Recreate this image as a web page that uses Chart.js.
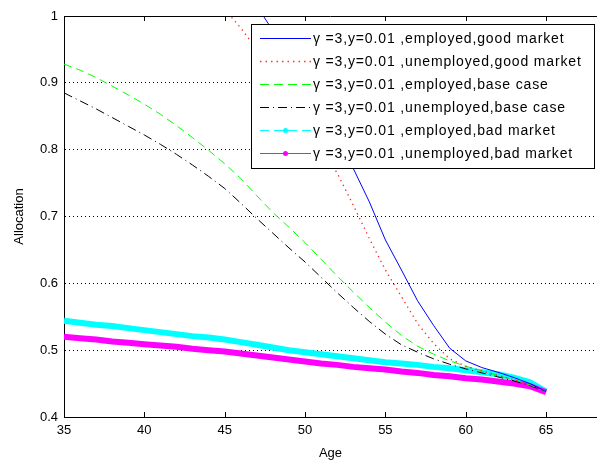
<!DOCTYPE html>
<html>
<head>
<meta charset="utf-8">
<script src="https://cdn.jsdelivr.net/npm/chart.js@4/dist/chart.umd.min.js"></script>
<style>
  html, body { margin: 0; padding: 0; background: #fff; }
  #wrap { width: 597px; height: 464px; }
</style>
</head>
<body>
<div id="wrap"><canvas id="c" width="597" height="464"></canvas></div>
<script>
// ages on the x axis
const ages = [35,36,37,38,39,40,41,42,43,44,45,46,47,48,49,50,51,52,53,54,55,56,57,58,59,60,61,62,63,64,65];

// allocation (null = above the top of the plot)
const empGood   = [null,null,null,null,null,null,null,null,null,null,null,1.05,1.015,0.978,0.938,0.897,0.855,0.812,0.772,0.722,0.665,0.620,0.574,0.537,0.503,0.484,0.474,0.467,0.459,0.450,0.438];
const unempGood = [null,null,null,null,null,null,null,null,null,null,1.01,0.982,0.950,0.915,0.878,0.840,0.802,0.765,0.717,0.667,0.620,0.580,0.540,0.510,0.487,0.476,0.469,0.462,0.456,0.448,0.438];
const empBase   = [0.928,0.919,0.908,0.895,0.882,0.868,0.853,0.836,0.818,0.799,0.779,0.757,0.731,0.706,0.684,0.661,0.636,0.611,0.587,0.564,0.542,0.522,0.506,0.494,0.484,0.476,0.469,0.462,0.456,0.448,0.438];
const unempBase = [0.885,0.873,0.861,0.848,0.835,0.822,0.808,0.793,0.777,0.760,0.742,0.720,0.697,0.675,0.653,0.632,0.609,0.586,0.564,0.543,0.524,0.508,0.497,0.487,0.479,0.472,0.466,0.460,0.454,0.447,0.438];
const empBad    = [0.544,0.541,0.538,0.536,0.533,0.530,0.527,0.524,0.521,0.519,0.516,0.512,0.508,0.504,0.500,0.497,0.494,0.491,0.488,0.485,0.482,0.480,0.478,0.475,0.473,0.470,0.467,0.464,0.459,0.452,0.438];
const unempBad  = [0.520,0.518,0.516,0.513,0.511,0.509,0.507,0.505,0.502,0.500,0.498,0.495,0.492,0.489,0.486,0.483,0.480,0.478,0.475,0.473,0.471,0.468,0.466,0.463,0.461,0.458,0.456,0.453,0.450,0.446,0.437];

const seriesNames = [
  'γ =3,y=0.01 ,employed,good market',
  'γ =3,y=0.01 ,unemployed,good market',
  'γ =3,y=0.01 ,employed,base case',
  'γ =3,y=0.01 ,unemployed,base case',
  'γ =3,y=0.01 ,employed,bad market',
  'γ =3,y=0.01 ,unemployed,bad market'
];
const yTicks = [0.4,0.5,0.6,0.7,0.8,0.9,1];
const xTicks = [35,40,45,50,55,60,65];

const FONT = '"Liberation Sans", Arial, sans-serif';

function pts(vals) {
  return ages.map((a, i) => ({ x: a, y: vals[i] })).filter(p => p.y !== null);
}

// legend samples (MATLAB style)
const legendStyle = [
  { color: '#0000ff', dash: [], width: 1, marker: false },
  { color: '#ff3030', dash: [1.5, 4], width: 1.5, marker: false },
  { color: '#00ff00', dash: [9, 5], width: 1, marker: false },
  { color: '#000000', dash: [9, 4, 1, 4], width: 1, marker: false },
  { color: '#00ffff', dash: [9, 5], width: 1, marker: true },
  { color: '#ff00ff', dash: [], width: 1, marker: true }
];

const boxPlugin = {
  id: 'box',
  afterDraw(chart) {
    const ctx = chart.ctx;
    const a = chart.chartArea;
    const xs = chart.scales.x;
    ctx.save();
    // top border of the axes box
    ctx.strokeStyle = '#000';
    ctx.lineWidth = 1;
    ctx.beginPath();
    ctx.moveTo(a.left, Math.round(a.top) + 0.5);
    ctx.lineTo(a.right, Math.round(a.top) + 0.5);
    ctx.stroke();
    // inward tick marks on top and bottom
    xs.ticks.forEach(t => {
      const px = Math.round(xs.getPixelForValue(t.value)) + 0.5;
      ctx.beginPath();
      ctx.moveTo(px, a.bottom); ctx.lineTo(px, a.bottom - 5);
      ctx.moveTo(px, a.top); ctx.lineTo(px, a.top + 5);
      ctx.stroke();
    });

    // legend box
    const bx = 251.5, by = 24.5, bw = 343, bh = 144;
    ctx.fillStyle = '#fff';
    ctx.fillRect(bx, by, bw, bh);
    ctx.strokeStyle = '#000';
    ctx.strokeRect(bx, by, bw, bh);
    ctx.font = '14px ' + FONT;
    ctx.letterSpacing = '0.85px';
    ctx.textBaseline = 'middle';
    ctx.textAlign = 'left';
    seriesNames.forEach((name, i) => {
      const st = legendStyle[i];
      const y = Math.round(38 + i * 23) + 0.5;
      ctx.strokeStyle = st.color;
      ctx.lineWidth = st.width;
      ctx.setLineDash(st.dash);
      ctx.beginPath();
      ctx.moveTo(260, y);
      ctx.lineTo(311, y);
      ctx.stroke();
      ctx.setLineDash([]);
      if (st.marker) {
        ctx.fillStyle = st.color;
        ctx.beginPath();
        ctx.arc(285.5, y, 2.5, 0, Math.PI * 2);
        ctx.fill();
      }
      ctx.fillStyle = '#000';
      ctx.fillText(name, 313, y + 1);
    });
    ctx.restore();
  }
};

new Chart(document.getElementById('c'), {
  type: 'line',
  data: {
    datasets: [
      { label: seriesNames[0], data: pts(empGood),   borderColor: '#0000ff', borderWidth: 1, order: 0 },
      { label: seriesNames[1], data: pts(unempGood), borderColor: '#ff2020', borderWidth: 1.3, borderDash: [1.3, 4], order: 1 },
      { label: seriesNames[2], data: pts(empBase),   borderColor: '#00ff00', borderWidth: 1, borderDash: [8, 5], order: 2 },
      { label: seriesNames[3], data: pts(unempBase), borderColor: '#000000', borderWidth: 1, borderDash: [9, 4, 1, 4], order: 3 },
      { label: seriesNames[4], data: pts(empBad),    borderColor: '#00ffff', borderWidth: 6, order: 6 },
      { label: seriesNames[5], data: pts(unempBad),  borderColor: '#ff00ff', borderWidth: 6, order: 5 }
    ]
  },
  options: {
    responsive: false,
    animation: false,
    events: [],
    layout: { padding: { top: 16, right: 0, left: 0, bottom: 3 } },
    elements: {
      point: { radius: 0 },
      line: { tension: 0, fill: false, borderCapStyle: 'butt' }
    },
    plugins: {
      legend: { display: false },
      tooltip: { enabled: false }
    },
    scales: {
      x: {
        type: 'linear',
        min: 35,
        max: 68.17,
        afterBuildTicks: s => { s.ticks = xTicks.map(v => ({ value: v })); },
        afterFit: s => { s.height = 44; },
        ticks: {
          color: '#000',
          font: { family: FONT, size: 13 },
          padding: 6,
          maxRotation: 0
        },
        grid: { display: false, drawTicks: false },
        border: { display: true, color: '#000', width: 1 },
        title: {
          display: true,
          text: 'Age',
          color: '#000',
          font: { family: FONT, size: 13 },
          padding: { top: 0, bottom: 0 }
        }
      },
      y: {
        min: 0.4,
        max: 1,
        afterBuildTicks: s => { s.ticks = yTicks.map(v => ({ value: v })); },
        afterFit: s => { s.width = 64; },
        ticks: {
          color: '#000',
          font: { family: FONT, size: 13 },
          padding: 6,
          callback: v => String(v)
        },
        grid: {
          drawTicks: false,
          color: c => (c.tick && (c.tick.value > 0.45 && c.tick.value < 0.95)) ? '#000' : 'rgba(0,0,0,0)',
          lineWidth: 1
        },
        border: { display: true, color: '#000', width: 1, dash: [1, 3] },
        title: {
          display: true,
          text: 'Allocation',
          color: '#000',
          font: { family: FONT, size: 13 },
          padding: { top: 12, bottom: 8 }
        }
      }
    }
  },
  plugins: [boxPlugin]
});
</script>
</body>
</html>
